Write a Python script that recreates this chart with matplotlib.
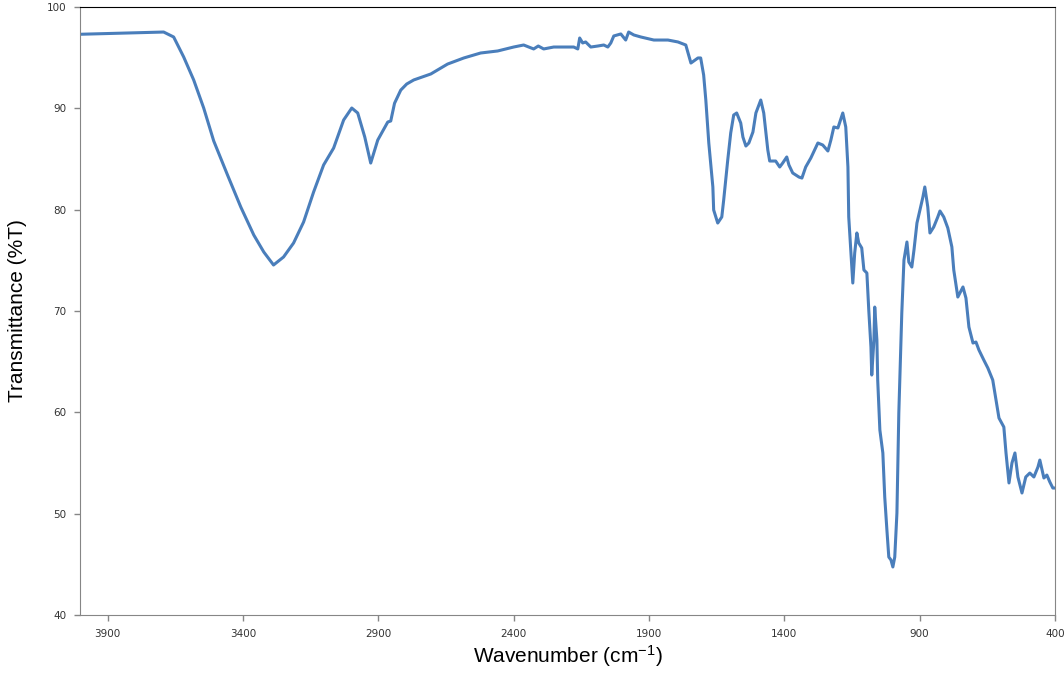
import matplotlib
matplotlib.use("Agg")
import matplotlib.pyplot as plt

wavenumber = [
    4000, 3741, 3693, 3656, 3619, 3582, 3545, 3508, 3457, 3408, 3360, 3323, 3287,
    3250, 3213, 3176, 3139, 3102, 3065, 3028, 2998, 2976, 2950, 2928, 2902, 2891,
    2865, 2854, 2840, 2817, 2795, 2769, 2706, 2644, 2584, 2522, 2459, 2400, 2363,
    2326, 2309, 2289, 2252, 2178, 2163, 2156, 2145, 2134, 2115, 2089, 2067, 2052,
    2041, 2030, 2004, 1986, 1975, 1956, 1930, 1882, 1830, 1793, 1764, 1745, 1719,
    1709, 1698, 1690, 1679, 1664, 1661, 1646, 1631, 1624, 1609, 1598, 1587, 1576,
    1561, 1553, 1542, 1531, 1516, 1505, 1487, 1476, 1461, 1454, 1432, 1417, 1406,
    1391, 1383, 1369, 1346, 1335, 1321, 1302, 1276, 1258, 1239, 1228, 1217, 1202,
    1184, 1173, 1165, 1162, 1147, 1140, 1132, 1125, 1114, 1106, 1095, 1088, 1080,
    1077, 1069, 1066, 1058, 1055, 1047, 1036, 1029, 1021, 1014, 1006, 999, 992,
    984, 977, 966, 958, 947, 940, 929, 921, 910, 899, 888, 881, 870, 862, 848,
    833, 825, 811, 796, 781, 774, 759, 740, 729, 718, 703, 692, 681, 663, 648,
    630, 618, 607, 589, 581, 570, 559, 548, 537, 522, 508, 493, 478, 463, 456,
    441, 430, 419, 408, 400,
]
transmittance = [
    97.31, 97.50, 97.53, 97.04, 95.07, 92.80, 90.03, 86.78, 83.42, 80.26, 77.50, 75.82, 74.54,
    75.33, 76.71, 78.78, 81.74, 84.41, 86.08, 88.85, 90.03, 89.54, 87.17, 84.60, 86.87, 87.40,
    88.65, 88.75, 90.50, 91.80, 92.40, 92.80, 93.39, 94.37, 94.97, 95.46, 95.66, 96.05, 96.25,
    95.86, 96.15, 95.86, 96.05, 96.05, 95.86, 96.94, 96.45, 96.55, 96.05, 96.15, 96.25, 96.05,
    96.45, 97.14, 97.34, 96.74, 97.53, 97.24, 97.04, 96.74, 96.74, 96.55, 96.25, 94.47, 94.97,
    94.97, 93.29, 90.82, 86.58, 82.24, 79.97, 78.68, 79.28, 80.95, 84.90, 87.57, 89.34, 89.54,
    88.55, 87.17, 86.28, 86.58, 87.66, 89.54, 90.82, 89.54, 85.89, 84.80, 84.80, 84.21, 84.60,
    85.20, 84.41, 83.62, 83.22, 83.12, 84.21, 85.10, 86.58, 86.38, 85.79, 86.87, 88.16, 88.06,
    89.54, 88.16, 84.21, 79.28, 72.76, 75.72, 77.70, 76.71, 76.22, 74.05, 73.75, 70.10, 66.45,
    63.68, 67.14, 70.39, 67.14, 63.19, 58.26, 55.99, 51.64, 48.39, 45.72, 45.43, 44.74, 45.72,
    50.06, 59.93, 69.80, 75.03, 76.81, 74.83, 74.34, 76.02, 78.68, 79.97, 81.25, 82.24, 80.26, 77.70, 78.29,
    79.28, 79.87, 79.28, 78.19, 76.32, 74.05, 71.38, 72.37, 71.28, 68.42, 66.84, 66.94, 66.15, 65.16, 64.37,
    63.19, 61.22, 59.44, 58.55, 55.99, 53.03, 55.00, 55.99, 53.62, 52.04, 53.62, 54.01, 53.62, 54.60, 55.29,
    53.52, 53.81, 53.12, 52.53, 52.53,
]
x_ticks = [3900, 3400, 2900, 2400, 1900, 1400, 900, 400]
y_ticks = [40, 50, 60, 70, 80, 90, 100]

plt.rcParams["mathtext.fontset"] = "custom"
plt.rcParams["mathtext.rm"] = "Liberation Sans"
plt.rcParams["mathtext.default"] = "rm"

fig = plt.figure(figsize=(10.64, 6.75), dpi=100)
ax = fig.add_axes([80 / 1064, 1 - 615 / 675, (1055 - 80) / 1064, (615 - 7) / 675])
ax.plot(wavenumber, transmittance, color="#4a7ebb", linewidth=2.2,
        solid_joinstyle="round", solid_capstyle="round")
ax.set_xlim(4002, 400)
ax.set_ylim(40, 100)
ax.set_xticks(x_ticks)
ax.set_xticklabels([str(t) for t in x_ticks])
ax.set_yticks(y_ticks)
ax.set_yticklabels([str(t) for t in y_ticks])
ax.tick_params(axis="both", direction="out", length=4, width=1, colors="#868686",
               labelcolor="#333333", labelsize=7.5, pad=6)
for side in ["left", "bottom", "right"]:
    ax.spines[side].set_color("#868686")
ax.spines["top"].set_color("black")
ax.set_xlabel("Wavenumber (cm$^{-1}$)", fontsize=15, family="Liberation Sans", labelpad=3)
ax.set_ylabel("Transmittance (%T)", fontsize=15, family="Liberation Sans", labelpad=14)
fig.savefig("out.png", dpi=100)
